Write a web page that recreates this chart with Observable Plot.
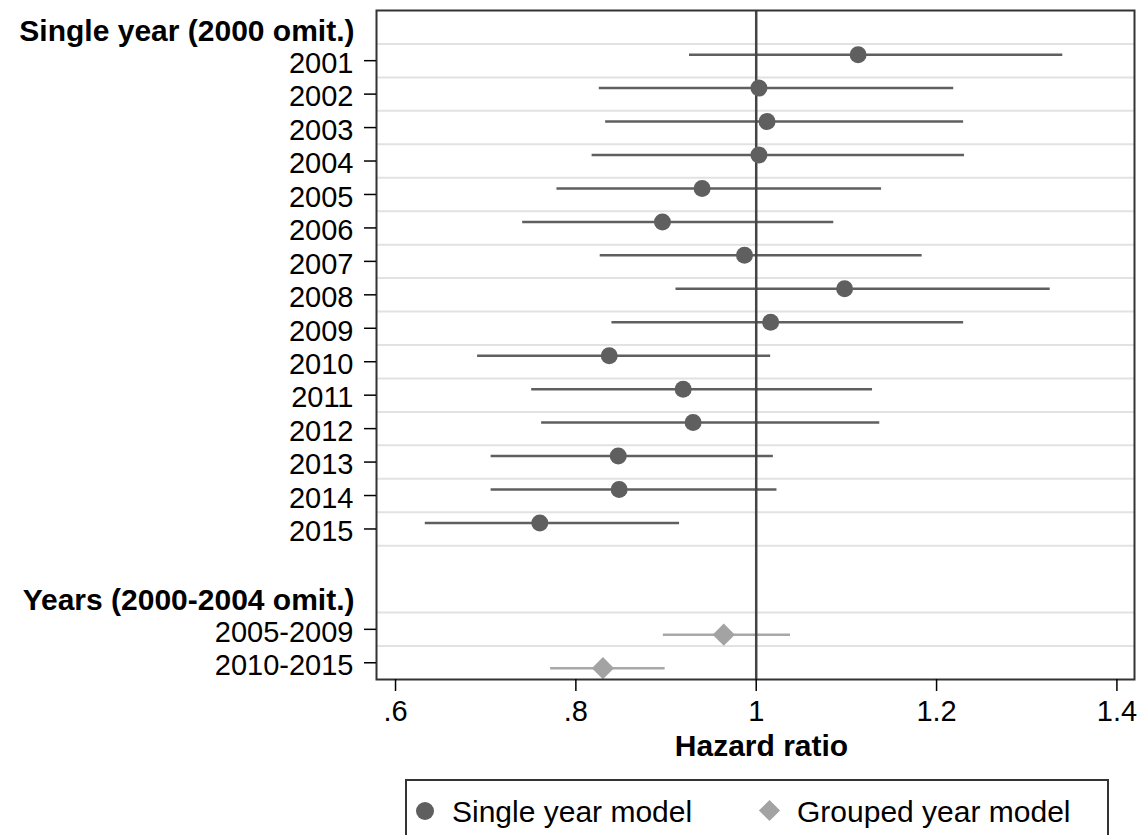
<!DOCTYPE html>
<html>
<head>
<meta charset="utf-8">
<script src="https://cdn.jsdelivr.net/npm/d3@7"></script>
<script src="https://cdn.jsdelivr.net/npm/@observablehq/plot@0.6"></script>
<style>
  html, body { margin: 0; padding: 0; background: #fff; overflow: hidden; }
  body { font-family: 'Liberation Sans', Arial, sans-serif; }
  #legend { position: relative; margin-left: 405px; margin-top: 4px; width: 704px; height: 70px;
            border: 2px solid #333; box-sizing: border-box; }
  #legend .item { position: absolute; font-size: 30px; line-height: 30px; color: #000; white-space: nowrap; }
  #legend .circ { position: absolute; width: 18px; height: 18px; border-radius: 50%; background: #5f5f5f; }
  #legend .diam { position: absolute; width: 15px; height: 15px; background: #a3a3a3; transform: rotate(45deg); }
</style>
</head>
<body>
<div id="chart"></div>
<div id="legend">
  <span class="circ" style="left:9px; top:21px"></span>
  <span class="item" style="left:45px; top:16px">Single year model</span>
  <span class="diam" style="left:355px; top:22px"></span>
  <span class="item" style="left:390px; top:16px">Grouped year model</span>
</div>
<script>
// ---- data ----
const years = ["2001","2002","2003","2004","2005","2006","2007","2008","2009","2010","2011","2012","2013","2014","2015"];
const singleHR = [1.113, 1.003, 1.012, 1.003, 0.940, 0.896, 0.987, 1.098, 1.016, 0.837, 0.919, 0.930, 0.847, 0.848, 0.760];
const singleLo = [0.926, 0.826, 0.833, 0.818, 0.779, 0.741, 0.827, 0.911, 0.840, 0.691, 0.751, 0.762, 0.706, 0.706, 0.633];
const singleHi = [1.340, 1.219, 1.230, 1.231, 1.139, 1.086, 1.184, 1.326, 1.230, 1.016, 1.129, 1.137, 1.019, 1.023, 0.915];

const groups = ["2005-2009", "2010-2015"];
const groupHR = [0.964, 0.830];
const groupLo = [0.897, 0.772];
const groupHi = [1.038, 0.899];

const headers = ["Single year (2000 omit.)", "Years (2000-2004 omit.)"];
const xTicks = [0.6, 0.8, 1.0, 1.2, 1.4];
const xLabel = "Hazard ratio";

// ---- layout rows (row index on a linear y scale) ----
const singlePos = years.map((_, i) => i + 1);          // 1..15
const groupPos = groups.map((_, i) => 18 + i);          // 18, 19
const headerPos = [0.13, 17.13];
const gridPos = d3.range(0.5, 16, 1).concat([17.5, 18.5]);
const yTicks = singlePos.concat(groupPos);
const labelByPos = new Map(yTicks.map((p, i) => [p, years.concat(groups)[i]]));

const single = years.map((y, i) => ({label: y, pos: singlePos[i] - 0.18, hr: singleHR[i], lo: singleLo[i], hi: singleHi[i]}));
const grouped = groups.map((g, i) => ({label: g, pos: groupPos[i] + 0.16, hr: groupHR[i], lo: groupLo[i], hi: groupHi[i]}));

const dark = "#5f5f5f";
const light = "#a3a3a3";

const chart = Plot.plot({
  width: 1140,
  height: 775,
  marginLeft: 376,
  marginRight: 6,
  marginTop: 10,
  marginBottom: 96,
  style: {fontFamily: "'Liberation Sans', Arial, sans-serif", fontSize: "29px", background: "#fff", color: "#000"},
  x: {domain: [0.5789, 1.4195]},
  y: {domain: [19.5, -0.5]},
  marks: [
    Plot.ruleY(gridPos, {stroke: "#e2e2e2", strokeWidth: 2}),
    Plot.ruleY(single, {y: "pos", x1: "lo", x2: "hi", stroke: dark, strokeWidth: 2.5}),
    Plot.ruleY(grouped, {y: "pos", x1: "lo", x2: "hi", stroke: "#a8a8a8", strokeWidth: 2.5}),
    Plot.ruleX([1], {stroke: "#444", strokeWidth: 2.5}),
    Plot.dot(single, {x: "hr", y: "pos", r: 8.5, fill: dark, stroke: "none"}),
    Plot.dot(grouped, {x: "hr", y: "pos", r: 10, symbol: "diamond2", fill: light, stroke: "none"}),
    Plot.frame({stroke: "#333", strokeWidth: 2}),
    Plot.axisX({ticks: xTicks, tickSize: 12, tickPadding: 9, strokeWidth: 1.5, stroke: "#000",
                tickFormat: d => String(d).replace(/^0\./, "."), fontSize: 29, label: null}),
    Plot.axisY({ticks: yTicks, tickSize: 12, strokeWidth: 1.5, stroke: "#000", tickFormat: () => "", label: null}),
    Plot.axisY({ticks: yTicks, tickSize: 0, tickPadding: 23, tickFormat: d => labelByPos.get(d), dy: 3,
                fontSize: 29, label: null}),
    Plot.text(headers, {y: headerPos, frameAnchor: "left", dx: -22, textAnchor: "end",
                        fontWeight: "bold", fontSize: 30, fill: "#000"}),
    Plot.text([xLabel], {frameAnchor: "bottom", lineAnchor: "middle", dx: 6, dy: 67,
                         fontWeight: "bold", fontSize: 30, fill: "#000"})
  ]
});
document.getElementById("chart").appendChild(chart);
</script>
</body>
</html>
